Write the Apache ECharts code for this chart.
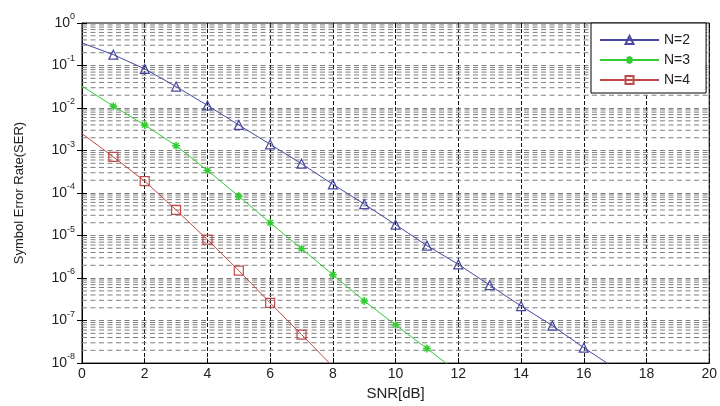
<!DOCTYPE html>
<html><head><meta charset="utf-8">
<script src="https://cdn.jsdelivr.net/npm/echarts@6/dist/echarts.min.js"></script>
<style>html,body{margin:0;padding:0;background:#fff}#c{width:720px;height:406px}</style>
</head><body><div id="c"></div>
<script>
// ---- data ----
const seriesNames = ['N=2', 'N=3', 'N=4'];
const snr2 = [0, 1, 2, 3, 4, 5, 6, 7, 8, 9, 10, 11, 12, 13, 14, 15, 16, 17];
const ser2 = [0.34, 0.18, 0.083, 0.032, 0.0115, 0.0040, 0.0014, 4.9e-4, 1.6e-4, 5.5e-5, 1.8e-5, 5.8e-6, 2.1e-6, 6.8e-7, 2.2e-7, 7.6e-8, 2.3e-8, 7.5e-9];
const snr3 = [0, 1, 2, 3, 4, 5, 6, 7, 8, 9, 10, 11, 12];
const ser3 = [0.033, 0.011, 0.0040, 1.3e-3, 3.4e-4, 8.4e-5, 2.0e-5, 4.9e-6, 1.2e-6, 2.9e-7, 7.9e-8, 2.2e-8, 6e-9];
const snr4 = [0, 1, 2, 3, 4, 5, 6, 7, 8];
const ser4 = [2.5e-3, 7.1e-4, 1.9e-4, 4.0e-5, 8.0e-6, 1.5e-6, 2.6e-7, 4.7e-8, 8.3e-9];
const xTicks = [0, 2, 4, 6, 8, 10, 12, 14, 16, 18, 20];
const yDecades = [-8, -7, -6, -5, -4, -3, -2, -1, 0];
const minorMultipliers = [2, 3, 4, 5, 6, 7, 8, 9];

// ---- styling ----
const C2 = '#4848a0', C3 = '#33cc33', C4 = '#c04848';
const FONT = 'Liberation Sans, Arial, sans-serif';
const TXT = '#222';
const star = 'path://M0,5L10,5M5,0L5,10M1.6,1.6L8.4,8.4M1.6,8.4L8.4,1.6';
const hGridStyle = { color: '#7f7f7f', type: [5, 3.5], width: 1 };

function pts(xs, ys) {
  return xs.map((x, i) => i === 0 ? { value: [x, ys[i]], symbol: 'none' } : [x, ys[i]]);
}

// minor log grid lines (2..9 x 10^k) drawn as plain line series through the axes
const xMin = xTicks[0], xMax = xTicks[xTicks.length - 1];
const gridSeries = [];
yDecades.slice(0, -1).forEach(k => minorMultipliers.forEach(m => {
  const v = m * Math.pow(10, k);
  gridSeries.push({
    name: 'grid' + k + '_' + m, type: 'line', silent: true, z: 1,
    symbol: 'none', data: [[xMin, v], [xMax, v]],
    lineStyle: hGridStyle, emphasis: { disabled: true }, tooltip: { show: false }
  });
}));

const chart = echarts.init(document.getElementById('c'), null, { renderer: 'canvas' });
chart.setOption({
  animation: false,
  backgroundColor: '#fff',
  textStyle: { fontFamily: FONT },
  grid: { left: 82, right: 4, top: 23, bottom: 38, show: true, borderColor: '#000', borderWidth: 1, backgroundColor: 'transparent' },
  legend: {
    data: seriesNames, orient: 'vertical', left: 591, top: 23,
    itemWidth: 59, itemHeight: 10, itemGap: 6, padding: [10, 16, 6, 8],
    backgroundColor: '#fff', borderColor: '#000', borderWidth: 1, borderRadius: 0,
    textStyle: { fontSize: 14, color: TXT, fontFamily: FONT }
  },
  xAxis: [{
    type: 'value', min: xMin, max: xMax, interval: 2,
    name: 'SNR[dB]', nameLocation: 'middle', nameGap: 12,
    nameTextStyle: { fontSize: 15, color: TXT, fontFamily: FONT },
    axisLine: { lineStyle: { color: '#000' } },
    axisTick: { inside: true, length: 5, lineStyle: { color: '#000' } },
    axisLabel: { fontSize: 14, color: TXT, margin: 4, fontFamily: FONT },
    splitLine: { show: true, lineStyle: { color: '#111', type: [4, 2], width: 1 } }
  }, {
    type: 'value', position: 'top', min: xMin, max: xMax, interval: 2,
    axisLine: { show: false }, axisLabel: { show: false }, splitLine: { show: false },
    axisTick: { inside: true, length: 5, lineStyle: { color: '#000' } }
  }],
  yAxis: [{
    type: 'log', logBase: 10, min: Math.pow(10, yDecades[0]), max: Math.pow(10, yDecades[yDecades.length - 1]), splitNumber: 8,
    name: 'Symbol Error Rate(SER)', nameLocation: 'middle', nameGap: 56,
    nameTextStyle: { fontSize: 13, color: TXT, fontFamily: FONT },
    axisLine: { show: true, lineStyle: { color: '#000' } },
    axisTick: { show: true, inside: true, length: 5, lineStyle: { color: '#000' } },
    axisLabel: {
      margin: 7, color: TXT,
      formatter: v => '{b|10}{e|' + Math.round(Math.log10(v)) + '}',
      rich: {
        b: { fontSize: 14, color: TXT, fontFamily: FONT, lineHeight: 22, verticalAlign: 'middle' },
        e: { fontSize: 9, color: TXT, fontFamily: FONT, lineHeight: 22, verticalAlign: 'top' }
      }
    },
    splitLine: { show: true, lineStyle: hGridStyle }
  }, {
    type: 'log', logBase: 10, position: 'right', min: Math.pow(10, yDecades[0]), max: Math.pow(10, yDecades[yDecades.length - 1]), splitNumber: 8,
    axisLine: { show: false }, axisLabel: { show: false }, splitLine: { show: false },
    axisTick: { show: true, inside: true, length: 5, lineStyle: { color: '#000' } }
  }],
  series: gridSeries.concat([
    {
      name: seriesNames[0], type: 'line', data: pts(snr2, ser2), z: 3,
      symbol: 'triangle', symbolSize: 9,
      lineStyle: { color: C2, width: 1 },
      itemStyle: { color: 'rgba(0,0,0,0)', borderColor: C2, borderWidth: 1.2 }
    },
    {
      name: seriesNames[1], type: 'line', data: pts(snr3, ser3), z: 3,
      symbol: star, symbolSize: 8,
      lineStyle: { color: C3, width: 1 },
      itemStyle: { color: 'rgba(0,0,0,0)', borderColor: C3, borderWidth: 1.5 }
    },
    {
      name: seriesNames[2], type: 'line', data: pts(snr4, ser4), z: 3,
      symbol: 'rect', symbolSize: 9,
      lineStyle: { color: C4, width: 1 },
      itemStyle: { color: 'rgba(0,0,0,0)', borderColor: C4, borderWidth: 1.2 }
    }
  ])
});
</script>
</body></html>
